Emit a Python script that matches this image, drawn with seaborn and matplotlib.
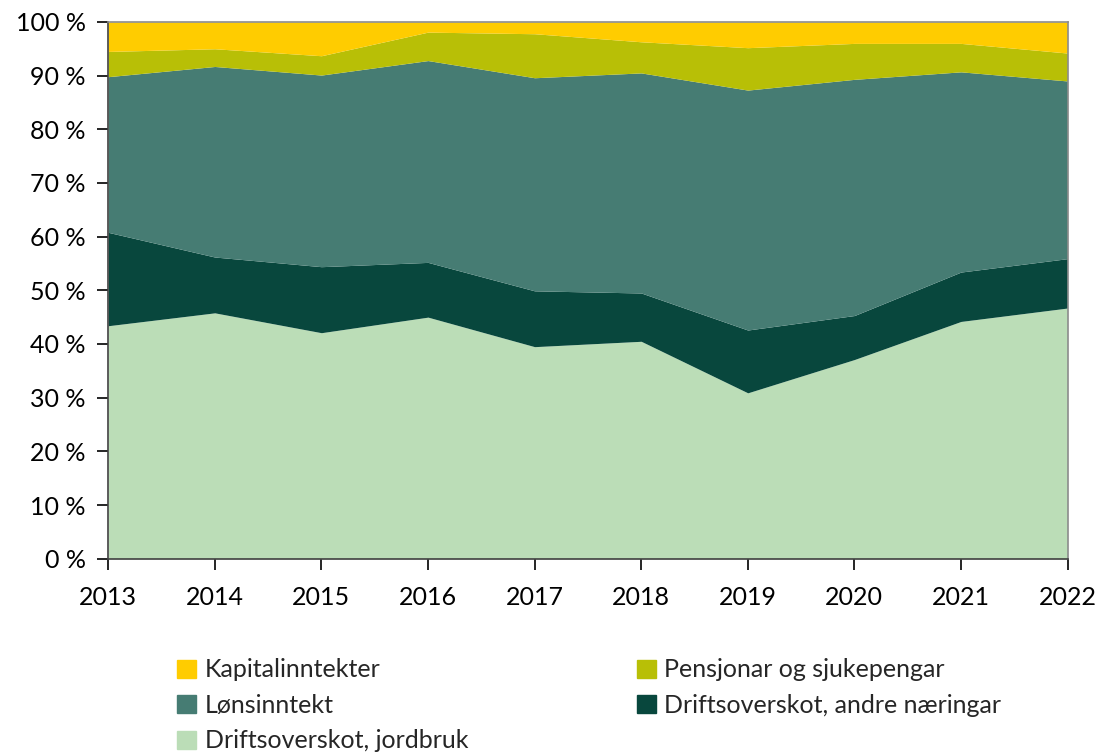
import matplotlib
matplotlib.use('Agg')
import matplotlib.pyplot as plt
import seaborn as sns
from matplotlib.patches import Patch
from matplotlib.ticker import FuncFormatter

years = [2013, 2014, 2015, 2016, 2017, 2018, 2019, 2020, 2021, 2022]
jordbruk = [43.4, 45.8, 42.1, 45.0, 39.5, 40.5, 30.9, 37.1, 44.2, 46.7]
andre = [17.4, 10.4, 12.3, 10.2, 10.4, 9.0, 11.7, 8.2, 9.2, 9.2]
lonn = [29.0, 35.5, 35.7, 37.6, 39.7, 41.0, 44.7, 44.0, 37.3, 33.1]
pensjon = [4.7, 3.3, 3.6, 5.3, 8.2, 5.8, 7.9, 6.7, 5.3, 5.2]
kapital = [5.5, 5.0, 6.3, 1.9, 2.2, 3.7, 4.8, 4.0, 4.0, 5.8]

labels = ['Driftsoverskot, jordbruk', 'Driftsoverskot, andre næringar',
          'Lønsinntekt', 'Pensjonar og sjukepengar', 'Kapitalinntekter']
colors = ['#BBDDB7', '#08473D', '#467C73', '#B8BF06', '#FFCC00']

sns.set_theme(style='ticks')
plt.rcParams['font.family'] = ['Lato', 'DejaVu Sans']

fig = plt.figure(figsize=(11.04, 7.56), dpi=100)
ax = fig.add_axes([0.098, 0.261, 0.869, 0.710])

ax.stackplot(years, jordbruk, andre, lonn, pensjon, kapital, colors=colors,
             linewidth=0)
ax.set_xlim(2013, 2022)
ax.set_ylim(0, 100)
ax.set_xticks(years)
ax.set_yticks(range(0, 101, 10))
ax.yaxis.set_major_formatter(FuncFormatter(lambda v, p: f'{int(v)} %'))
ax.tick_params(axis='both', labelsize=18, colors='#000000', length=8, width=1.2,
               labelcolor='black')
ax.tick_params(axis='x', pad=12)
ax.tick_params(axis='y', pad=8)
for s in ['top', 'right']:
    ax.spines[s].set_color('#8c8c8c')
    ax.spines[s].set_linewidth(1.2)
for s in ['left', 'bottom']:
    ax.spines[s].set_color('#404040')
    ax.spines[s].set_linewidth(1.2)

handles = [Patch(color=c, label=l) for c, l in zip(colors, labels)]
# order so the two-column legend reads row-wise
order = [4, 2, 0, 3, 1]
fig.legend([handles[i] for i in order], [labels[i] for i in order],
           loc='lower left', bbox_to_anchor=(0.14, -0.025), ncol=2,
           frameon=False, fontsize=18, handlelength=0.75, handleheight=0.75,
           handletextpad=0.35, columnspacing=6.75, labelspacing=0.5)

fig.savefig('out.png', dpi=100)
